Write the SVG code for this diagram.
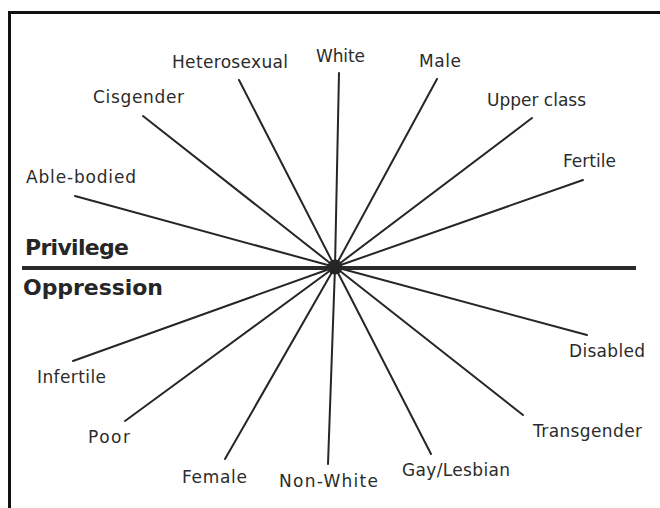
<svg xmlns="http://www.w3.org/2000/svg" width="660" height="508" viewBox="0 0 660 508">
<style>
.lbl{font-family:"DejaVu Sans","Liberation Sans",sans-serif;font-size:17px;fill:#2b2b2b}
.big{font-family:"DejaVu Sans","Liberation Sans",sans-serif;font-size:22px;font-weight:bold;fill:#262626}
.spoke{stroke:#262626;stroke-width:2;stroke-linecap:round;fill:none}
</style>
<rect width="660" height="508" fill="#ffffff"/>
<g id="frame" fill="none" stroke="#111" stroke-width="3">
<path d="M9.5,508 V12.5 H660"/>
</g>
<g id="connectors">
<line x1="22" y1="268" x2="636" y2="268" stroke="#2a2a2a" stroke-width="4"/>
<line class="spoke" x1="335" y1="267" x2="339" y2="73"/>
<line class="spoke" x1="335" y1="267" x2="437" y2="79"/>
<line class="spoke" x1="335" y1="267" x2="532" y2="118"/>
<line class="spoke" x1="335" y1="267" x2="583" y2="180"/>
<line class="spoke" x1="335" y1="267" x2="239" y2="80"/>
<line class="spoke" x1="335" y1="267" x2="143" y2="116"/>
<line class="spoke" x1="335" y1="267" x2="75" y2="196"/>
<line class="spoke" x1="335" y1="267" x2="73" y2="361"/>
<line class="spoke" x1="335" y1="267" x2="125" y2="421"/>
<line class="spoke" x1="335" y1="267" x2="225" y2="459"/>
<line class="spoke" x1="335" y1="267" x2="328" y2="464"/>
<line class="spoke" x1="335" y1="267" x2="431" y2="454"/>
<line class="spoke" x1="335" y1="267" x2="523" y2="415"/>
<line class="spoke" x1="335" y1="267" x2="587" y2="335"/>
</g>
<g id="hub"><circle cx="335" cy="267" r="7.5" fill="#262626"/></g>
<g id="privilege"><text class="big" x="25" y="255" textLength="104">Privilege</text></g>
<g id="oppression"><text class="big" x="23" y="295" textLength="140">Oppression</text></g>
<g id="white"><text class="lbl" x="316" y="62" textLength="49">White</text></g>
<g id="male"><text class="lbl" x="419" y="67" textLength="42">Male</text></g>
<g id="upper-class"><text class="lbl" x="487" y="106" textLength="99">Upper class</text></g>
<g id="fertile"><text class="lbl" x="563" y="167" textLength="53">Fertile</text></g>
<g id="heterosexual"><text class="lbl" x="172" y="68" textLength="116">Heterosexual</text></g>
<g id="cisgender"><text class="lbl" x="93" y="103" textLength="91">Cisgender</text></g>
<g id="able-bodied"><text class="lbl" x="26" y="183" textLength="110">Able-bodied</text></g>
<g id="infertile"><text class="lbl" x="37" y="383" textLength="69">Infertile</text></g>
<g id="poor"><text class="lbl" x="88" y="443" textLength="42">Poor</text></g>
<g id="female"><text class="lbl" x="182" y="483" textLength="65">Female</text></g>
<g id="non-white"><text class="lbl" x="279" y="487" textLength="99">Non-White</text></g>
<g id="gay-lesbian"><text class="lbl" x="402" y="476" textLength="108">Gay/Lesbian</text></g>
<g id="transgender"><text class="lbl" x="533" y="437" textLength="109">Transgender</text></g>
<g id="disabled"><text class="lbl" x="569" y="357" textLength="76">Disabled</text></g>
</svg>
